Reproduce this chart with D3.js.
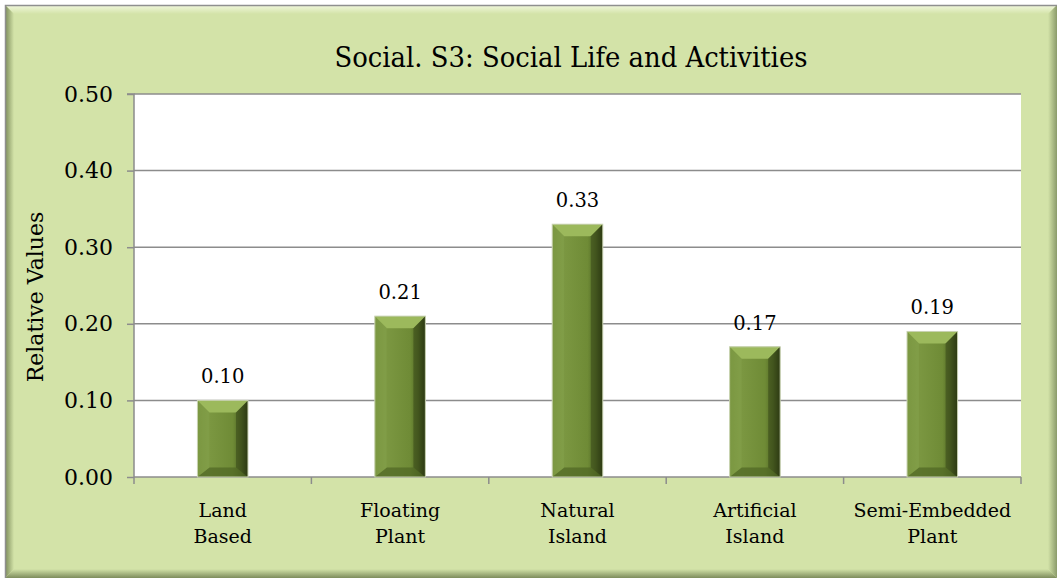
<!DOCTYPE html>
<html><head><meta charset="utf-8">
<script src="https://d3js.org/d3.v7.min.js"></script>
<style>body{margin:0;background:#fff;}svg{display:block;}</style>
</head><body>
<script>
const categories = [["Land","Based"],["Floating","Plant"],["Natural","Island"],["Artificial","Island"],["Semi-Embedded","Plant"]];
const values = [0.10, 0.21, 0.33, 0.17, 0.19];
const valueLabels = ["0.10","0.21","0.33","0.17","0.19"];
const yTicks = [0, 0.1, 0.2, 0.3, 0.4, 0.5];
const title = "Social. S3: Social Life and Activities";
const yTitle = "Relative Values";

const W = 1058, H = 579;
const svg = d3.select("body").append("svg").attr("width", W).attr("height", H);
const defs = svg.append("defs");
const FONT = "'DejaVu Serif', serif";

function grad(id, x1, y1, x2, y2, stops){
  const g = defs.append("linearGradient").attr("id",id).attr("x1",x1).attr("y1",y1).attr("x2",x2).attr("y2",y2);
  stops.forEach(s=>g.append("stop").attr("offset",s[0]).attr("stop-color",s[1]));
}
grad("bevelL",0,0,1,0,[[0,"#7a8a58"],[1,"#d3e3a8"]]);
grad("bevelR",1,0,0,0,[[0,"#8a9a6a"],[1,"#d3e3a8"]]);
grad("bevelB",0,1,0,0,[[0,"#7d8c5c"],[1,"#d3e3a8"]]);
grad("bevelT",0,0,0,1,[[0,"#f2f8de"],[1,"#d3e3a8"]]);
grad("barG",0,0,1,0,[[0,"#74903a"],[0.2,"#7c9842"],[0.7,"#6f8b36"],[0.86,"#536a26"],[1,"#2c3912"]]);

// frame
const fx0 = 5, fy0 = 5, fx1 = 1057, fy1 = 578, bw = 9;
svg.append("rect").attr("x",fx0).attr("y",fy0).attr("width",fx1-fx0).attr("height",fy1-fy0).attr("fill","#d3e3a8");
svg.append("polygon").attr("points",[[fx0,fy0],[fx1,fy0],[fx1-bw,fy0+bw],[fx0+bw,fy0+bw]].join(" ")).attr("fill","url(#bevelT)");
svg.append("polygon").attr("points",[[fx0,fy0],[fx0+bw,fy0+bw],[fx0+bw,fy1-bw],[fx0,fy1]].join(" ")).attr("fill","url(#bevelL)");
svg.append("polygon").attr("points",[[fx1,fy0],[fx1-bw,fy0+bw],[fx1-bw,fy1-bw],[fx1,fy1]].join(" ")).attr("fill","url(#bevelR)");
svg.append("polygon").attr("points",[[fx0,fy1],[fx0+bw,fy1-bw],[fx1-bw,fy1-bw],[fx1,fy1]].join(" ")).attr("fill","url(#bevelB)");
svg.append("path").attr("d",`M${fx0+0.5},${fy1}V${fy0+0.5}H${fx1}`).attr("fill","none").attr("stroke","#8f8f8f").attr("stroke-width",1.5);

// plot area
const L = 134, R = 1021, T = 94, B = 477;
const x = d3.scaleBand().domain(d3.range(categories.length)).range([L, R]).padding(0);
const y = d3.scaleLinear().domain([0, 0.5]).range([B, T]);

svg.append("rect").attr("x",L).attr("y",T).attr("width",R-L).attr("height",B-T).attr("fill","#fff");

// gridlines
svg.append("g").selectAll("line").data(yTicks.slice(1)).join("line")
  .attr("x1",L).attr("x2",R).attr("y1",d=>y(d)).attr("y2",d=>y(d))
  .attr("stroke","#8c8c8c").attr("stroke-width",1.5);

// y axis
const yAxis = d3.axisLeft(y).tickValues(yTicks).tickFormat(d3.format(".2f")).tickSize(7).tickPadding(14);
const gy = svg.append("g").attr("transform",`translate(${L},0)`).call(yAxis);
gy.select(".domain").attr("stroke","#8c8c8c").attr("stroke-width",1.5).attr("d",`M-7,${T}H0V${B}`);
gy.selectAll(".tick line").attr("stroke","#8c8c8c").attr("stroke-width",1.5);
gy.selectAll(".tick text").attr("font-family",FONT).attr("font-size",22).attr("fill","#000");

// x axis
const gx = svg.append("g").attr("transform",`translate(0,${B})`);
gx.append("line").attr("x1",L).attr("x2",R).attr("y1",0).attr("y2",0).attr("stroke","#8c8c8c").attr("stroke-width",1.5);
const boundaries = d3.range(categories.length+1).map(i => i < categories.length ? x(i) : x(categories.length-1)+x.bandwidth());
gx.selectAll("line.tk").data(boundaries).join("line").attr("class","tk")
  .attr("x1",d=>d).attr("x2",d=>d).attr("y1",0).attr("y2",7).attr("stroke","#8c8c8c").attr("stroke-width",1.5);
const xl = gx.selectAll("text.cat").data(categories).join("text").attr("class","cat")
  .attr("x",(d,i)=>x(i)+x.bandwidth()/2).attr("y",40)
  .attr("text-anchor","middle").attr("font-family",FONT).attr("font-size",19).attr("fill","#000");
xl.each(function(d){
  const t = d3.select(this);
  d.forEach((s,j)=>t.append("tspan").attr("x",t.attr("x")).attr("dy",j===0?0:26).text(s));
});

// bars
const barW = x.bandwidth()*0.285;
const bev = 12;
const bars = svg.append("g").selectAll("g").data(values).join("g");
bars.each(function(v,i){
  const g = d3.select(this);
  const cx = x(i)+x.bandwidth()/2;
  const x0 = cx - barW/2, x1 = cx + barW/2, y0 = y(v), y1 = y(0);
  g.append("rect").attr("x",x0).attr("y",y0).attr("width",barW).attr("height",y1-y0).attr("fill","url(#barG)");
  g.append("polygon").attr("points",[[x0,y0],[x1,y0],[x1-bev,y0+bev],[x0+bev,y0+bev]].join(" ")).attr("fill","#9cb95c");
  g.append("polygon").attr("points",[[x0,y1],[x1,y1],[x1-bev,y1-bev*0.8],[x0+bev,y1-bev*0.8]].join(" ")).attr("fill","#4f6523").attr("opacity",0.7);
  g.append("polygon").attr("points",[[x0,y0],[x0+bev,y0+bev],[x0+bev,y1-bev*0.8],[x0,y1]].join(" ")).attr("fill","#8aa650").attr("opacity",0.35);
  g.append("polygon").attr("points",[[x1,y0],[x1-bev,y0+bev],[x1-bev,y1-bev*0.8],[x1,y1]].join(" ")).attr("fill","#2f3c13").attr("opacity",0.45);
  g.append("rect").attr("x",x0).attr("y",y0).attr("width",barW).attr("height",y1-y0).attr("fill","none").attr("stroke","#c9d3b2").attr("stroke-width",1);
});

// value labels
svg.append("g").selectAll("text").data(values).join("text")
  .attr("x",(d,i)=>x(i)+x.bandwidth()/2).attr("y",d=>y(d)-17)
  .attr("text-anchor","middle").attr("font-family",FONT).attr("font-size",19.5).attr("fill","#000")
  .text((d,i)=>valueLabels[i]);

// title
svg.append("text").attr("x",571).attr("y",67).attr("text-anchor","middle")
  .attr("font-family",FONT).attr("font-size",28).attr("fill","#000")
  .attr("textLength",473).attr("lengthAdjust","spacingAndGlyphs").text(title);

// y title
svg.append("text").attr("transform","translate(43,297) rotate(-90)").attr("text-anchor","middle")
  .attr("font-family",FONT).attr("font-size",22).attr("fill","#000").text(yTitle);
</script>
</body></html>
